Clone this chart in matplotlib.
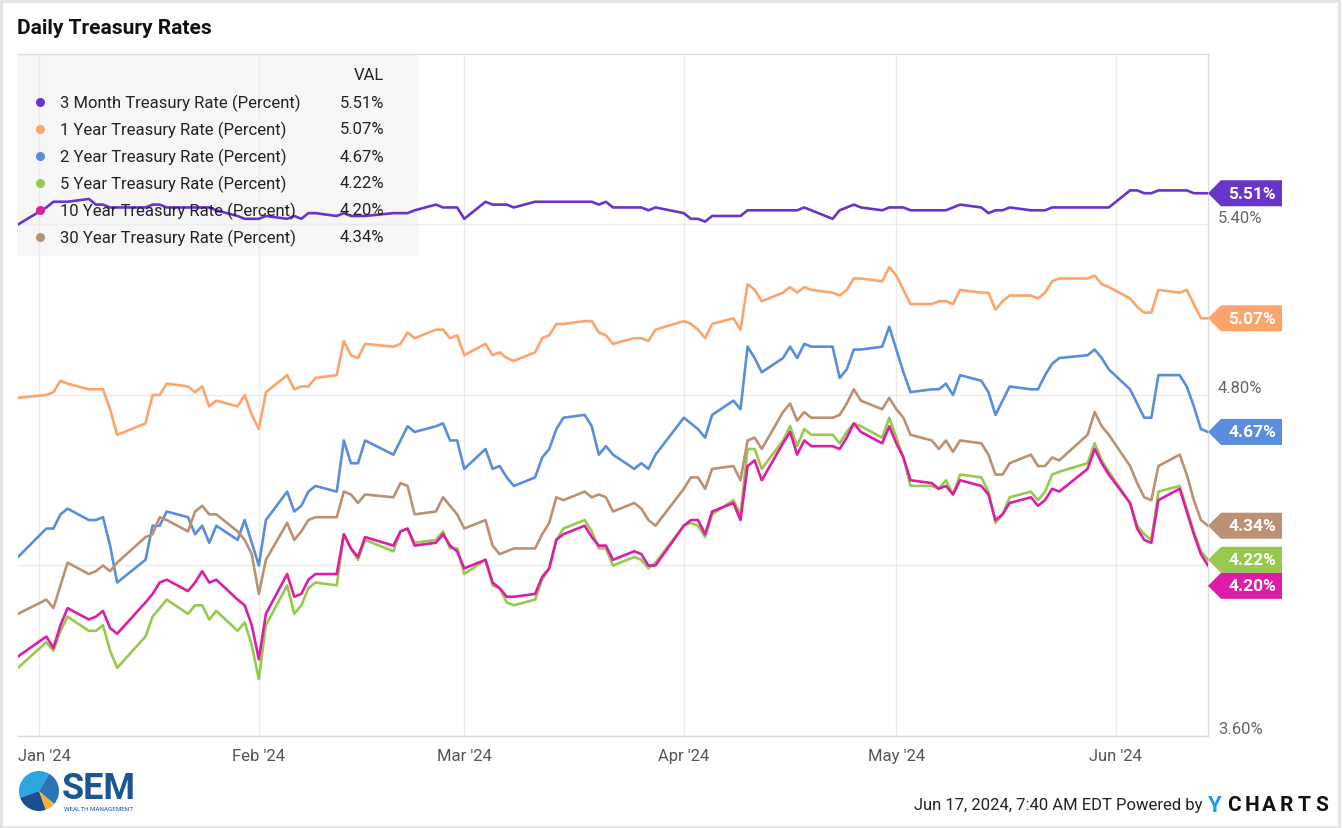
import matplotlib
matplotlib.use('Agg')
import matplotlib.pyplot as plt
import matplotlib.transforms as mtransforms
from matplotlib.patches import Rectangle, Polygon, Wedge
from matplotlib.lines import Line2D
import pandas as pd

plt.rcParams['font.family'] = ['Roboto', 'DejaVu Sans']

# trading days, Dec 29 2023 .. Jun 14 2024
holidays = ['2024-01-01', '2024-01-15', '2024-02-19', '2024-03-29', '2024-05-27']
dates = pd.bdate_range('2023-12-29', '2024-06-14')
dates = dates[~dates.isin(pd.to_datetime(holidays))]

names = ['3 Month Treasury Rate (Percent)', '1 Year Treasury Rate (Percent)',
         '2 Year Treasury Rate (Percent)', '5 Year Treasury Rate (Percent)',
         '10 Year Treasury Rate (Percent)', '30 Year Treasury Rate (Percent)']
colors = ['#6934c9', '#fda46c', '#5a8ddb', '#97c94c', '#dd1ca8', '#bc9072']

t3m = [5.40,
       5.46, 5.48, 5.48, 5.48, 5.49, 5.47, 5.47, 5.46, 5.46, 5.46, 5.47, 5.47, 5.46, 5.46, 5.46, 5.46, 5.46, 5.45, 5.43, 5.42, 5.42,
       5.42, 5.43, 5.42, 5.43, 5.42, 5.44, 5.44, 5.43, 5.44, 5.43, 5.43, 5.43, 5.44, 5.44, 5.44, 5.45, 5.47, 5.46, 5.46, 5.46,
       5.42, 5.48, 5.47, 5.47, 5.47, 5.46, 5.48, 5.48, 5.48, 5.48, 5.48, 5.48, 5.48, 5.47, 5.48, 5.46, 5.46, 5.46, 5.45, 5.46,
       5.44, 5.42, 5.42, 5.41, 5.43, 5.43, 5.43, 5.45, 5.45, 5.45, 5.45, 5.45, 5.45, 5.46, 5.45, 5.42, 5.45, 5.46, 5.47, 5.46, 5.45, 5.46,
       5.46, 5.46, 5.45, 5.45, 5.45, 5.45, 5.46, 5.47, 5.46, 5.44, 5.45, 5.45, 5.46, 5.45, 5.45, 5.45, 5.46, 5.46, 5.46, 5.46, 5.46, 5.46,
       5.52, 5.52, 5.51, 5.51, 5.52, 5.52, 5.52, 5.51, 5.51, 5.51]
t1 = [4.79,
      4.80, 4.81, 4.85, 4.84, 4.82, 4.82, 4.82, 4.75, 4.66, 4.70, 4.80, 4.80, 4.84, 4.83, 4.81, 4.83, 4.76, 4.78, 4.76, 4.80, 4.73,
      4.68, 4.81, 4.87, 4.82, 4.83, 4.83, 4.86, 4.87, 4.99, 4.94, 4.93, 4.98, 4.97, 4.98, 5.02, 5.00, 5.03, 5.03, 5.00, 5.01,
      4.94, 4.98, 4.94, 4.95, 4.93, 4.92, 4.95, 5.00, 5.01, 5.05, 5.05, 5.06, 5.06, 5.02, 5.01, 4.98, 5.00, 5.00, 4.99, 5.03,
      5.06, 5.05, 5.03, 5.00, 5.05, 5.07, 5.03, 5.19, 5.17, 5.13, 5.16, 5.18, 5.16, 5.18, 5.17, 5.16, 5.15, 5.17, 5.21, 5.21, 5.20, 5.25,
      5.22, 5.17, 5.12, 5.12, 5.13, 5.13, 5.12, 5.17, 5.16, 5.16, 5.10, 5.13, 5.15, 5.15, 5.14, 5.16, 5.20, 5.21, 5.21, 5.22, 5.19, 5.18,
      5.14, 5.11, 5.09, 5.09, 5.17, 5.16, 5.17, 5.12, 5.07, 5.07]
t2 = [4.23,
      4.33, 4.33, 4.38, 4.40, 4.36, 4.36, 4.37, 4.27, 4.14, 4.22, 4.34, 4.34, 4.39, 4.37, 4.31, 4.34, 4.28, 4.34, 4.29, 4.36, 4.28,
      4.20, 4.36, 4.46, 4.39, 4.41, 4.46, 4.48, 4.46, 4.64, 4.56, 4.56, 4.64, 4.59, 4.64, 4.69, 4.67, 4.69, 4.70, 4.64, 4.64,
      4.54, 4.61, 4.54, 4.55, 4.51, 4.48, 4.51, 4.58, 4.61, 4.68, 4.72, 4.73, 4.69, 4.59, 4.62, 4.59, 4.54, 4.56, 4.54, 4.59,
      4.72, 4.70, 4.68, 4.65, 4.73, 4.78, 4.75, 4.97, 4.93, 4.88, 4.93, 4.97, 4.93, 4.98, 4.97, 4.97, 4.86, 4.89, 4.96, 4.96, 4.97, 5.04,
      4.96, 4.88, 4.81, 4.82, 4.82, 4.84, 4.80, 4.87, 4.85, 4.81, 4.73, 4.78, 4.83, 4.82, 4.82, 4.87, 4.91, 4.93, 4.94, 4.96, 4.93, 4.89,
      4.82, 4.77, 4.72, 4.72, 4.87, 4.87, 4.83, 4.76, 4.68, 4.67]
t5 = [3.84,
      3.93, 3.90, 3.97, 4.02, 3.97, 3.97, 3.99, 3.90, 3.84, 3.95, 4.02, 4.05, 4.08, 4.03, 4.06, 4.06, 4.01, 4.04, 3.97, 4.00, 3.92,
      3.80, 3.99, 4.13, 4.03, 4.06, 4.12, 4.14, 4.13, 4.31, 4.26, 4.22, 4.29, 4.25, 4.32, 4.33, 4.28, 4.29, 4.32, 4.26, 4.26,
      4.17, 4.22, 4.13, 4.12, 4.07, 4.06, 4.08, 4.15, 4.19, 4.29, 4.33, 4.36, 4.32, 4.26, 4.26, 4.20, 4.23, 4.22, 4.19, 4.21,
      4.34, 4.35, 4.34, 4.30, 4.38, 4.43, 4.38, 4.61, 4.61, 4.54, 4.64, 4.69, 4.62, 4.68, 4.66, 4.66, 4.63, 4.67, 4.70, 4.69, 4.65, 4.72,
      4.65, 4.58, 4.48, 4.48, 4.47, 4.50, 4.45, 4.52, 4.51, 4.46, 4.35, 4.38, 4.44, 4.46, 4.43, 4.46, 4.52, 4.53, 4.56, 4.63, 4.57, 4.53,
      4.42, 4.34, 4.31, 4.29, 4.46, 4.48, 4.40, 4.32, 4.25, 4.22]
t10 = [3.88,
       3.95, 3.91, 3.99, 4.05, 4.01, 4.02, 4.04, 3.98, 3.96, 4.07, 4.10, 4.14, 4.15, 4.11, 4.14, 4.18, 4.14, 4.15, 4.08, 4.06, 3.99,
       3.87, 4.03, 4.17, 4.09, 4.10, 4.15, 4.17, 4.17, 4.31, 4.26, 4.23, 4.30, 4.27, 4.32, 4.33, 4.27, 4.28, 4.31, 4.27, 4.25,
       4.19, 4.22, 4.14, 4.12, 4.09, 4.09, 4.10, 4.16, 4.19, 4.29, 4.31, 4.34, 4.30, 4.27, 4.27, 4.22, 4.25, 4.24, 4.20, 4.20,
       4.34, 4.36, 4.36, 4.31, 4.39, 4.42, 4.36, 4.55, 4.57, 4.50, 4.63, 4.67, 4.59, 4.64, 4.62, 4.62, 4.61, 4.65, 4.70, 4.67, 4.63, 4.69,
       4.63, 4.58, 4.50, 4.49, 4.47, 4.48, 4.45, 4.50, 4.48, 4.45, 4.36, 4.38, 4.42, 4.44, 4.41, 4.43, 4.47, 4.46, 4.54, 4.61, 4.56, 4.52,
       4.42, 4.33, 4.29, 4.28, 4.43, 4.47, 4.39, 4.31, 4.24, 4.20]
t30 = [4.03,
       4.08, 4.05, 4.13, 4.21, 4.17, 4.18, 4.20, 4.18, 4.21, 4.30, 4.31, 4.37, 4.36, 4.32, 4.39, 4.41, 4.38, 4.38, 4.32, 4.29, 4.24,
       4.10, 4.22, 4.35, 4.29, 4.32, 4.36, 4.37, 4.37, 4.46, 4.45, 4.42, 4.45, 4.44, 4.49, 4.48, 4.38, 4.39, 4.44, 4.41, 4.38,
       4.33, 4.36, 4.27, 4.24, 4.25, 4.26, 4.26, 4.31, 4.35, 4.44, 4.43, 4.46, 4.44, 4.45, 4.44, 4.39, 4.42, 4.40, 4.36, 4.34,
       4.47, 4.51, 4.51, 4.47, 4.54, 4.55, 4.50, 4.64, 4.65, 4.61, 4.74, 4.77, 4.71, 4.74, 4.72, 4.72, 4.73, 4.77, 4.82, 4.78, 4.75, 4.79,
       4.75, 4.72, 4.66, 4.64, 4.61, 4.64, 4.60, 4.64, 4.63, 4.59, 4.52, 4.52, 4.56, 4.59, 4.55, 4.55, 4.58, 4.57, 4.66, 4.74, 4.69, 4.66,
       4.55, 4.49, 4.44, 4.43, 4.55, 4.59, 4.52, 4.43, 4.36, 4.34]
series = [t3m, t1, t2, t5, t10, t30]

month_ticks = pd.to_datetime(['2024-01-01', '2024-02-01', '2024-03-01', '2024-04-01', '2024-05-01', '2024-06-01'])
month_labels = ["Jan '24", "Feb '24", "Mar '24", "Apr '24", "May '24", "Jun '24"]
y_ticks = [3.60, 4.20, 4.80, 5.40]

W, H = 1342, 829
fig = plt.figure(figsize=(W / 100, H / 100), dpi=100)
ax = fig.add_axes([18 / W, 1 - 737 / H, 1190 / W, 682 / H])
ax.patch.set_alpha(0)

for vals, c in zip(series, colors):
    ax.plot(dates, vals, color=c, linewidth=1.9, solid_joinstyle='round', zorder=3)

ax.set_xlim(dates[0], dates[-1])
ax.set_ylim(3.60, 6.00)
ax.set_xticks(month_ticks)
ax.set_yticks(y_ticks)
ax.tick_params(length=0, labelbottom=False, labelleft=False)
ax.grid(True, color='#ebebeb', linewidth=1, zorder=0)
ax.spines['left'].set_visible(False)
for s in ['top', 'right', 'bottom']:
    ax.spines[s].set_color('#dcdcdc')
    ax.spines[s].set_linewidth(1)

# month labels (first one pushed to the left edge)
xtrans = mtransforms.blended_transform_factory(ax.transData, ax.transAxes)
xlab_trans = mtransforms.offset_copy(xtrans, fig=fig, x=0, y=-20, units='dots')
for i, (m, lab) in enumerate(zip(month_ticks, month_labels)):
    if i == 0:
        ax.text(dates[0], 0, lab, transform=xlab_trans, ha='left', va='center',
                fontsize=12, color='#555555', clip_on=False)
    else:
        ax.text(m, 0, lab, transform=xlab_trans, ha='center', va='center',
                fontsize=12, color='#555555', clip_on=False)

# end value tags, stacked so they never overlap
fig.canvas.draw()
last = [(s[-1], c) for s, c in zip(series, colors)]
last.sort(key=lambda p: -p[0])
tag_h = 26
prev = None
tag_centers = []
for v, c in last:
    xd, yd = ax.transData.transform((ax.get_xlim()[1], v))
    yc = yd if prev is None else min(yd, prev - tag_h)
    prev = yc
    tag_centers.append(yc)
    pts = [(xd, yc), (xd + 13, yc + tag_h / 2), (xd + 74, yc + tag_h / 2),
           (xd + 74, yc - tag_h / 2), (xd + 13, yc - tag_h / 2)]
    fig.patches.append(Polygon(pts, closed=True, facecolor=c, edgecolor='none',
                               transform=None, figure=fig, zorder=5))
    fig.text((xd + 44) / W, yc / H, '%.2f%%' % v, ha='center', va='center',
             fontsize=12.5, weight='bold', color='white', zorder=6)

# right side tick labels above the grid lines (hidden where a tag sits on top)
ytrans = mtransforms.blended_transform_factory(ax.transAxes, ax.transData)
ylab_trans = mtransforms.offset_copy(ytrans, fig=fig, x=10, y=7, units='dots')
for t in y_ticks:
    ty = ax.transData.transform((0, t))[1] + 7
    if any(abs(ty - yc) < 20 for yc in tag_centers):
        continue
    ax.text(1.0, t, '%.2f%%' % t, transform=ylab_trans, ha='left', va='center',
            fontsize=12, color='#666666', clip_on=False)

# legend block
fig.patches.append(Rectangle((17 / W, 1 - 257 / H), 401 / W, 202 / H, transform=fig.transFigure,
                             facecolor='#f6f6f6', edgecolor='none', zorder=-1, figure=fig))
fig.text(384 / W, 1 - 76 / H, 'VAL', ha='right', va='center', fontsize=12, color='#222222', zorder=6)
for i, (n, s, c) in enumerate(zip(names, series, colors)):
    yy = 1 - (103 + 27 * i) / H
    fig.add_artist(Line2D([40 / W], [yy], marker='o', markersize=6.5, color=c,
                          markeredgewidth=0, transform=fig.transFigure, zorder=6))
    fig.text(60 / W, yy, n, ha='left', va='center', fontsize=12, color='#222222', zorder=6)
    fig.text(384 / W, yy, '%.2f%%' % s[-1], ha='right', va='center', fontsize=12,
             color='#222222', zorder=6)

# title
fig.text(17 / W, 1 - 28 / H, 'Daily Treasury Rates', ha='left', va='center',
         fontsize=15, weight='bold', color='#111111')

# outer frame
fig.patches.append(Rectangle((0.001, 0.001), 0.997, 0.997, transform=fig.transFigure, fill=False,
                             edgecolor='#e3e3e3', linewidth=2, figure=fig, zorder=-2))

# SEM logo (rough)
cx, cy, r = 39, H - 792, 20
fig.patches.append(Wedge((cx, cy), r, 60, 200, facecolor='#2aa6e0', transform=None, figure=fig))
fig.patches.append(Wedge((cx, cy), r, 200, 290, facecolor='#1b4f8e', transform=None, figure=fig))
fig.patches.append(Wedge((cx, cy), r, 290, 320, facecolor='#f6b13a', transform=None, figure=fig))
fig.patches.append(Wedge((cx, cy), r, 320, 420, facecolor='#2a74ba', transform=None, figure=fig))
fig.text(62 / W, 1 - 789 / H, 'SEM', ha='left', va='center', fontsize=26, weight='bold', color='#1d5594')
fig.text(64 / W, 1 - 810 / H, 'WEALTH MANAGEMENT', ha='left', va='center', fontsize=4.5, color='#1d5594')

# footer
fig.text(1203 / W, 1 - 806 / H, 'Jun 17, 2024, 7:40 AM EDT Powered by', ha='right', va='center',
         fontsize=12, color='#222222')
fig.text(1208 / W, 1 - 806 / H, 'Y', ha='left', va='center', fontsize=16, weight='bold', color='#1e9de0')
# spaced-out logo letters
for i, ch in enumerate('CHARTS'):
    fig.text((1234 + 17.5 * i) / W, 1 - 806 / H, ch, ha='center', va='center', fontsize=15,
             weight='bold', color='#111111')

fig.savefig('out.png', dpi=100)
